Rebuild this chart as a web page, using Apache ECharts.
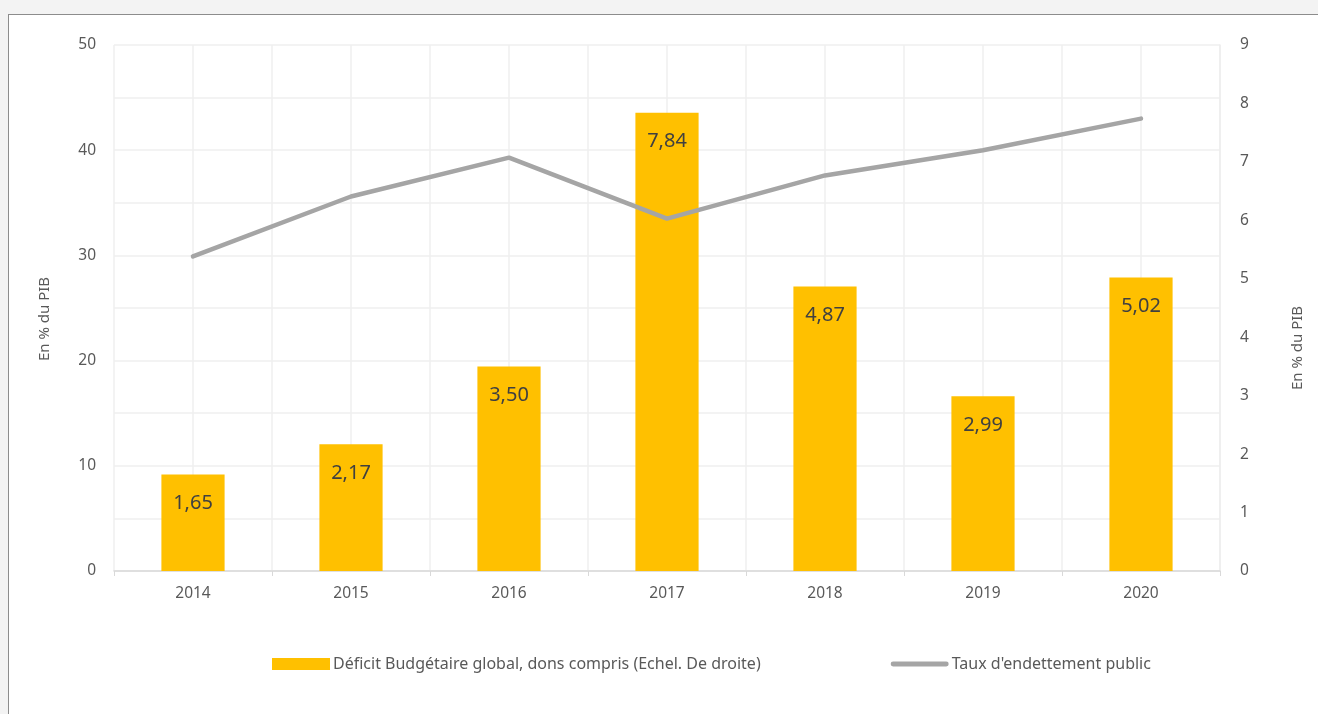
<!DOCTYPE html>
<html>
<head>
<meta charset="utf-8">
<script src="https://cdn.jsdelivr.net/npm/echarts@6/dist/echarts.min.js"></script>
<style>
  html, body { margin: 0; padding: 0; width: 1318px; height: 714px; overflow: hidden; background: #f3f3f3; }
  #frame { position: absolute; left: 8px; top: 14px; width: 1320px; height: 710px; background: #fff; border: 1.5px solid #8c8c8c; }
  #main { position: absolute; left: 0; top: 0; width: 1318px; height: 714px; }
</style>
</head>
<body>
<div id="frame"></div>
<div id="main"></div>
<script>
// données
var annees = ['2014', '2015', '2016', '2017', '2018', '2019', '2020'];
var deficit = [1.65, 2.17, 3.50, 7.84, 4.87, 2.99, 5.02];     // échelle de droite
var endettement = [29.9, 35.6, 39.3, 33.5, 37.6, 40.0, 43.0]; // échelle de gauche
var nomDeficit = 'Déficit Budgétaire global, dons compris (Echel. De droite)';
var nomDette = "Taux d'endettement public";

var police = 'Noto Sans';
var gris = '#595959';

var chart = echarts.init(document.getElementById('main'));

var option = {
    backgroundColor: 'transparent',
    textStyle: {fontFamily: police},
    grid: {left: 114, right: 98, top: 45, bottom: 143},
    legend: {
        bottom: 37,
        left: 267,
        itemGap: 130,
        itemWidth: 58,
        itemHeight: 12,
        symbolKeepAspect: true,
        textStyle: {color: gris, fontSize: 16, fontFamily: police, padding: [0, 0, 0, -2]},
        data: [
            {name: nomDeficit, icon: 'rect'},
            {
                name: nomDette,
                icon: 'path://M2.5,0h55a2.5,2.5 0 0 1 0,5h-55a2.5,2.5 0 0 1 0,-5z',
                itemStyle: {color: '#a5a5a5'}
            }
        ]
    },
    xAxis: [
        {
            type: 'category',
            data: annees,
            boundaryGap: true,
            axisLine: {lineStyle: {color: '#d9d9d9', width: 1.5}},
            axisTick: {show: true, length: 5, lineStyle: {color: '#d9d9d9'}},
            axisLabel: {color: gris, fontSize: 15.5, margin: 15},
            splitLine: {show: false}
        },
        {
            // grille verticale (demi-catégories)
            type: 'value',
            min: 0,
            max: 14,
            interval: 1,
            show: true,
            position: 'bottom',
            axisLine: {show: false},
            axisTick: {show: false},
            axisLabel: {show: false},
            splitLine: {show: true, lineStyle: {color: '#efefef', width: 1.5}}
        }
    ],
    yAxis: [
        {
            type: 'value',
            min: 0,
            max: 50,
            interval: 10,
            name: 'En % du PIB',
            nameLocation: 'middle',
            nameRotate: 90,
            nameGap: 62,
            nameTextStyle: {color: gris, fontSize: 15, padding: [0, 0, 0, -22]},
            axisLine: {show: false},
            axisTick: {show: false},
            axisLabel: {color: gris, fontSize: 15.5, margin: 18},
            splitLine: {lineStyle: {color: '#efefef', width: 1.5}},
            minorTick: {show: false, splitNumber: 2},
            minorSplitLine: {show: true, lineStyle: {color: '#efefef', width: 1.5}}
        },
        {
            type: 'value',
            min: 0,
            max: 9,
            interval: 1,
            name: 'En % du PIB',
            nameLocation: 'middle',
            nameRotate: 90,
            nameGap: 70,
            nameTextStyle: {color: gris, fontSize: 15, padding: [0, 0, 0, -80]},
            axisLine: {show: true, lineStyle: {color: '#eeeeee', width: 1.5}},
            axisTick: {show: false},
            axisLabel: {color: gris, fontSize: 15.5, margin: 20},
            splitLine: {show: false}
        }
    ],
    series: [
        {
            name: nomDeficit,
            type: 'bar',
            yAxisIndex: 1,
            xAxisIndex: 0,
            barWidth: '40%',
            itemStyle: {color: '#ffc000'},
            label: {
                show: true,
                position: 'insideTop',
                distance: 19,
                color: '#404040',
                fontSize: 20,
                fontFamily: police,
                formatter: function (p) {
                    return p.value.toFixed(2).replace('.', ',');
                }
            },
            data: deficit
        },
        {
            name: nomDette,
            type: 'line',
            yAxisIndex: 0,
            xAxisIndex: 0,
            symbol: 'none',
            lineStyle: {color: '#a5a5a5', width: 4.5, cap: 'round'},
            itemStyle: {color: '#a5a5a5'},
            z: 3,
            data: endettement
        }
    ]
};

chart.setOption(option);
</script>
</body>
</html>
